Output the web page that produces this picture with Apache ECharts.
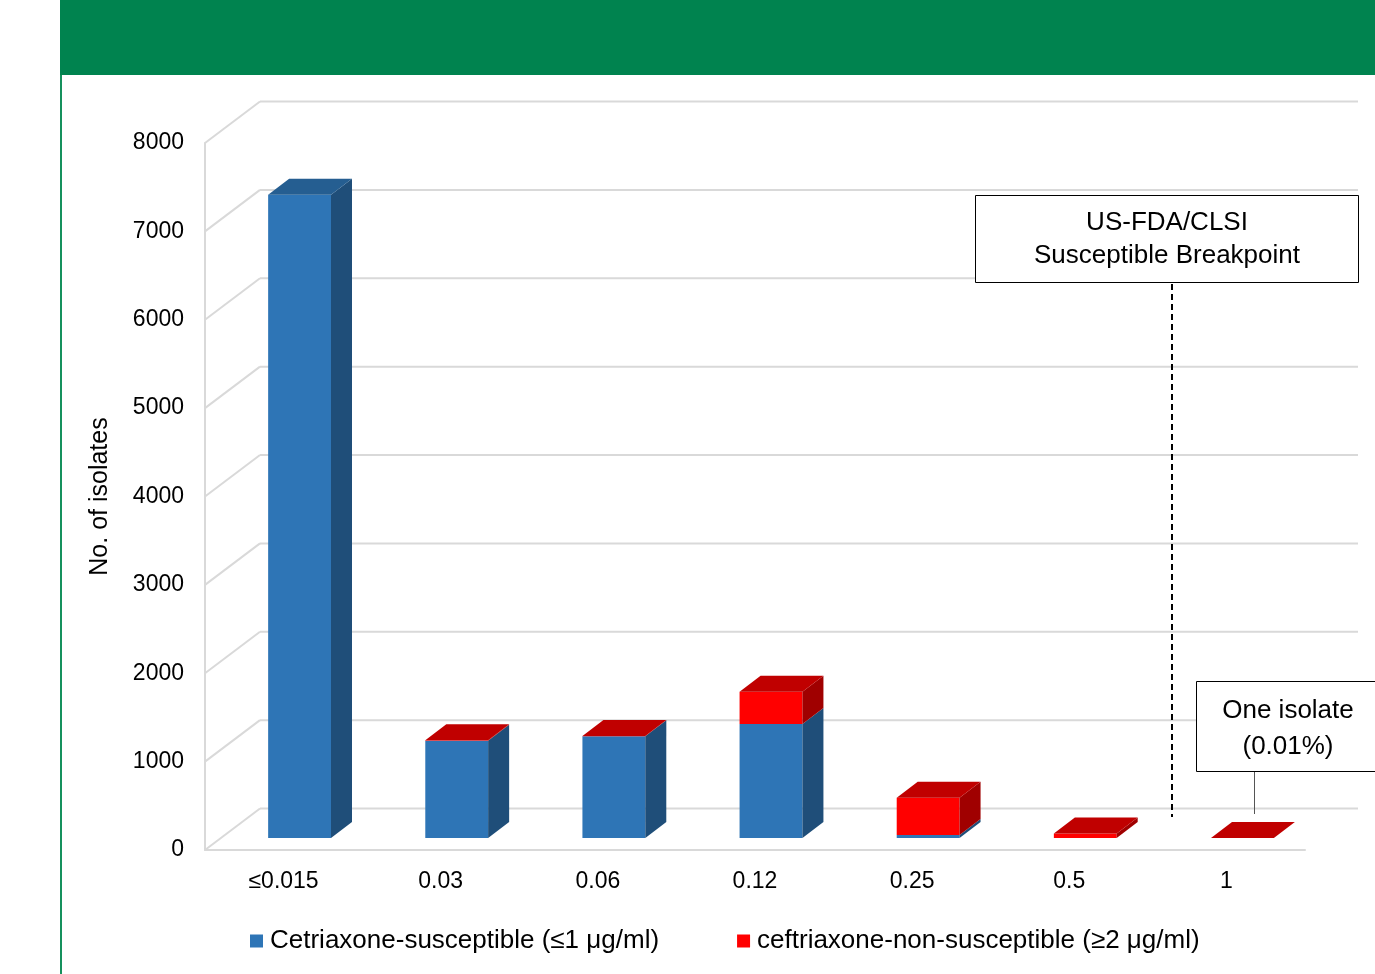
<!DOCTYPE html>
<html><head><meta charset="utf-8">
<script src="https://cdn.jsdelivr.net/npm/echarts@6/dist/echarts.min.js"></script>
<style>html,body{margin:0;padding:0;background:#fff}#c{width:1375px;height:974px}</style>
</head><body><div id="c"></div><script>
// ---- data ----
const categories = ['≤0.015', '0.03', '0.06', '0.12', '0.25', '0.5', '1'];
const susceptible = [7280, 1100, 1150, 1290, 35, 0, 0];
const nonSusceptible = [0, 5, 5, 365, 420, 50, 1];
const yMin = 0, yMax = 8000, yStep = 1000;
const seriesNames = ['Cetriaxone-susceptible (≤1 μg/ml)', 'ceftriaxone-non-susceptible (≥2 μg/ml)'];

// ---- style ----
const FONT = '"Liberation Sans", Arial, sans-serif';
const GRID_C = '#D9D9D9';
const WALL_DX = 55, WALL_DY = -41.5;      // depth of the back wall
const BAR_FX = 16, BAR_FY = -12;           // bar front-face depth offset
const BAR_BX = 21, BAR_BY = -16;           // bar depth
const faces = [
  {front: '#2E75B6', side: '#1F4E79', top: '#255E91'},
  {front: '#FF0000', side: '#A00000', top: '#C00000'}
];

const ticks = [];
for (let v = yMin; v <= yMax; v += yStep) ticks.push(v);

const chart = echarts.init(document.getElementById('c'), null, {renderer: 'canvas'});

function wallRender(params, api) {
  const cs = params.coordSys;
  const y = api.coord([0, api.value(1)])[1];
  const x0 = cs.x;
  return {
    type: 'group',
    children: [
      {type: 'line', shape: {x1: x0, y1: y, x2: x0 + WALL_DX, y2: y + WALL_DY},
       style: {stroke: GRID_C, lineWidth: 2}},
      {type: 'line', shape: {x1: x0 + WALL_DX, y1: y + WALL_DY, x2: x0 + cs.width + WALL_DX - 2, y2: y + WALL_DY},
       style: {stroke: GRID_C, lineWidth: 2}}
    ]
  };
}

function makeBarRender(k) {
  return function (params, api) {
    const i = api.value(0), b = api.value(1), r = api.value(2);
    const lo = k === 0 ? 0 : b;
    const hi = k === 0 ? b : b + r;
    if (hi - lo <= 0) return null;
    const topmost = k === 1 ? true : !(r > 0);
    const c = faces[k];
    const w = api.size([1, 0])[0] * 0.4;
    const cx = api.coord([i, 0])[0];
    const xl = cx - w / 2 + BAR_FX, xr = xl + w;
    const yLo = api.coord([i, lo])[1] + BAR_FY;
    const yHi = api.coord([i, hi])[1] + BAR_FY;
    const ch = [
      {type: 'rect', shape: {x: xl, y: yHi, width: w, height: Math.max(yLo - yHi, 0.01)},
       style: {fill: c.front}},
      {type: 'polygon', shape: {points: [[xr, yHi], [xr + BAR_BX, yHi + BAR_BY], [xr + BAR_BX, yLo + BAR_BY], [xr, yLo]]},
       style: {fill: c.side}}
    ];
    if (topmost) {
      ch.push({type: 'polygon', shape: {points: [[xl, yHi], [xl + BAR_BX, yHi + BAR_BY], [xr + BAR_BX, yHi + BAR_BY], [xr, yHi]]},
        style: {fill: c.top}});
    }
    return {type: 'group', children: ch};
  };
}

const barData = categories.map((c, i) => [i, susceptible[i], nonSusceptible[i]]);

chart.setOption({
  animation: false,
  textStyle: {fontFamily: FONT},
  grid: {left: 205, top: 143, width: 1100, height: 707},
  xAxis: {
    type: 'category', data: categories,
    axisLine: {lineStyle: {color: GRID_C, width: 2}},
    axisTick: {show: false},
    axisLabel: {fontSize: 23, color: '#000', margin: 20, fontFamily: FONT}
  },
  yAxis: {
    type: 'value', min: yMin, max: yMax, interval: yStep,
    name: 'No. of isolates', nameLocation: 'middle', nameGap: 92,
    nameTextStyle: {fontSize: 25, color: '#000', fontFamily: FONT},
    axisLine: {show: true, lineStyle: {color: GRID_C, width: 2}},
    axisTick: {show: false},
    splitLine: {show: false},
    axisLabel: {fontSize: 23, color: '#000', margin: 21, fontFamily: FONT,
      formatter: v => String(v), padding: [7, 0, 0, 0]}
  },
  legend: {
    data: seriesNames, left: 250, top: 928, padding: 0,
    icon: 'rect', itemWidth: 13, itemHeight: 13, itemGap: 78,
    textStyle: {fontSize: 26, color: '#000', fontFamily: FONT, padding: [0, 0, 0, 2]}
  },
  series: [
    {type: 'custom', name: 'walls', renderItem: wallRender, data: ticks.map(v => [0, v]),
     silent: true, z: 1, clip: false},
    {type: 'custom', name: seriesNames[0], renderItem: makeBarRender(0), data: barData,
     itemStyle: {color: faces[0].front}, encode: {x: 0, y: 1}, z: 3, clip: false, silent: true},
    {type: 'custom', name: seriesNames[1], renderItem: makeBarRender(1), data: barData,
     itemStyle: {color: faces[1].front}, encode: {x: 0, y: 2}, z: 4, clip: false, silent: true}
  ],
  graphic: [
    {type: 'rect', left: 60, top: 0, shape: {width: 1315, height: 75}, style: {fill: '#00834F'}, z: 10},
    {type: 'line', shape: {x1: 61, y1: 75, x2: 61, y2: 974}, style: {stroke: '#15915D', lineWidth: 2}, z: 10},
    {type: 'line', shape: {x1: 1172, y1: 284, x2: 1172, y2: 817},
     style: {stroke: '#000', lineWidth: 2, lineDash: [6, 4]}, z: 10},
    {type: 'rect', shape: {x: 975.5, y: 195.5, width: 383, height: 87},
     style: {fill: '#fff', stroke: '#000', lineWidth: 1}, z: 10},
    {type: 'text', x: 1167, y: 223, style: {text: 'US-FDA/CLSI', font: '26px ' + FONT, fill: '#000', textAlign: 'center', textVerticalAlign: 'middle'}, z: 11},
    {type: 'text', x: 1167, y: 256, style: {text: 'Susceptible Breakpoint', font: '26px ' + FONT, fill: '#000', textAlign: 'center', textVerticalAlign: 'middle'}, z: 11},
    {type: 'line', shape: {x1: 1254.5, y1: 772, x2: 1254.5, y2: 814}, style: {stroke: '#555', lineWidth: 1}, z: 10},
    {type: 'rect', shape: {x: 1196.5, y: 681.5, width: 185, height: 90},
     style: {fill: '#fff', stroke: '#000', lineWidth: 1}, z: 10},
    {type: 'text', x: 1288, y: 711, style: {text: 'One isolate', font: '26px ' + FONT, fill: '#000', textAlign: 'center', textVerticalAlign: 'middle'}, z: 11},
    {type: 'text', x: 1288, y: 747, style: {text: '(0.01%)', font: '26px ' + FONT, fill: '#000', textAlign: 'center', textVerticalAlign: 'middle'}, z: 11}
  ]
});
</script></body></html>
